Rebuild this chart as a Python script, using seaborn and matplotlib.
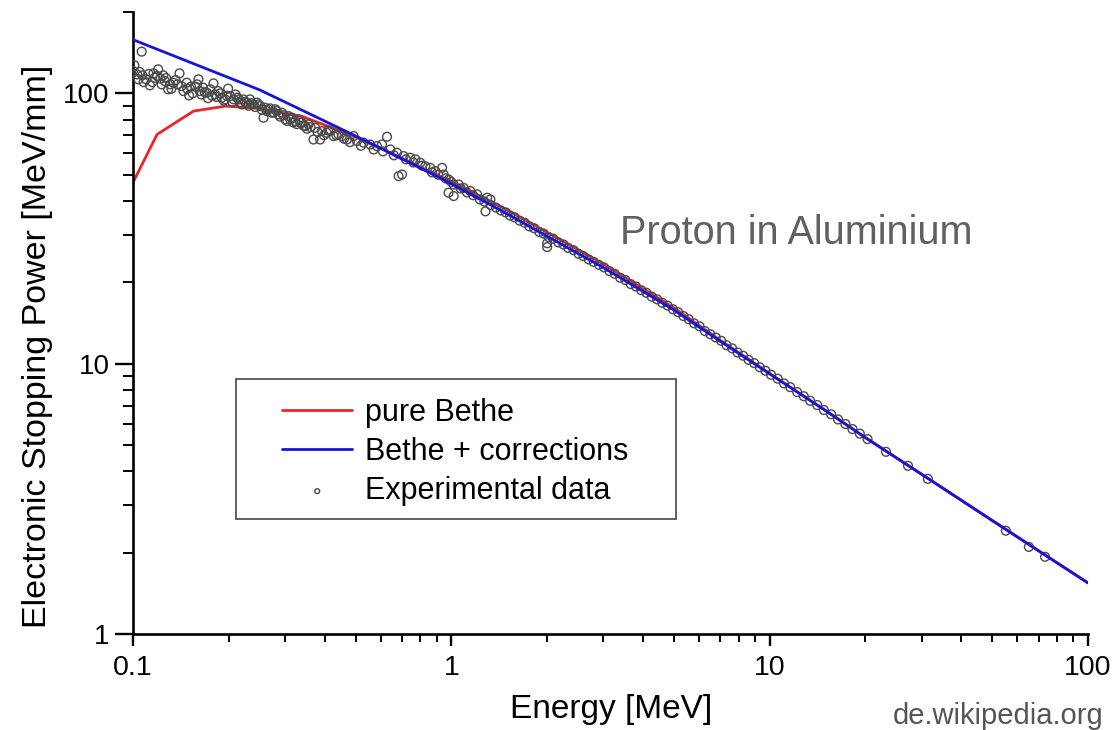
import numpy as np
import pandas as pd
import matplotlib
matplotlib.use("Agg")
import matplotlib.pyplot as plt
import seaborn as sns
from matplotlib.ticker import LogLocator, FixedLocator, FixedFormatter, NullFormatter
from matplotlib.patches import Rectangle

# ---------------- data ----------------
bethe_energy = [0.1, 0.119, 0.155, 0.195, 0.25, 0.34, 0.5, 0.7, 1.0, 1.5, 2.0, 3.0,
                5.0, 7.0, 10, 15, 20, 30, 50, 70, 100]
bethe_power = [46.8, 70.5, 86.0, 89.7, 88.0, 82.2, 69.0, 57.5, 47.2, 37.0, 30.6, 23.4,
               16.1, 12.2, 9.2, 6.7, 5.33, 3.9, 2.63, 2.03, 1.545]

corr_energy = [0.1, 0.25, 0.4, 0.6, 1.0, 1.5, 2.0, 3.0, 5.0, 7.0, 10, 15, 20, 30, 50, 70, 100]
corr_power = [158, 103, 79, 62.7, 46.3, 35.8, 29.6, 22.7, 15.8, 12.1, 9.17, 6.7, 5.32,
              3.90, 2.63, 2.03, 1.545]

# experimental data, low-energy cloud
cloud_energy = [0.101, 0.103, 0.104, 0.1065, 0.107, 0.110, 0.113, 0.116, 0.117, 0.120,
                0.122, 0.1245, 0.126, 0.129, 0.131, 0.134, 0.138, 0.140, 0.142, 0.1475,
                0.150, 0.152, 0.157, 0.1605, 0.162, 0.166, 0.1705, 0.175, 0.179, 0.181,
                0.185, 0.190, 0.195, 0.199, 0.202, 0.207, 0.212, 0.217, 0.222, 0.228,
                0.233, 0.239, 0.245, 0.251, 0.257, 0.260, 0.266, 0.273, 0.280, 0.286,
                0.2935, 0.301, 0.308, 0.3155, 0.323, 0.331, 0.339, 0.3475, 0.356, 0.369,
                0.3735, 0.387, 0.392, 0.406, 0.416, 0.4265, 0.442, 0.453, 0.470, 0.493,
                0.505, 0.530, 0.556, 0.584, 0.6055, 0.628, 0.643, 0.675, 0.683, 0.700,
                0.708, 0.743, 0.7705, 0.799, 0.828, 0.859, 0.891, 0.935, 0.946, 0.981,
                1.017, 1.017, 1.054, 1.093, 1.147, 1.205, 1.295,
                0.100, 0.105, 0.108, 0.112, 0.115, 0.119, 0.123, 0.127, 0.132, 0.136,
                0.144, 0.148, 0.154, 0.159, 0.164, 0.168, 0.172, 0.177, 0.183, 0.188,
                0.193, 0.197, 0.205, 0.210, 0.215, 0.220, 0.225, 0.231, 0.236, 0.242,
                0.248, 0.254, 0.263, 0.270, 0.277, 0.283, 0.290, 0.297, 0.305, 0.312,
                0.319, 0.327, 0.335, 0.343, 0.352, 0.361, 0.380, 0.398, 0.410, 0.435,
                0.460, 0.480, 0.520, 0.570, 0.610, 0.660, 0.720, 0.760, 0.810, 0.870,
                0.910, 0.960, 1.000, 1.070, 1.120, 1.170, 1.230, 1.270, 0.980, 1.280]
cloud_power = [127, 117.5, 112.7, 142.7, 116.6, 112.7, 107.1, 118.6, 114.3, 122.7,
               113.3, 116.6, 111.1, 103.5, 108.0, 109.5, 108.0, 118.6, 106.4, 109.5,
               98.3, 105.9, 105.9, 112.7, 102.0, 105.0, 100.6, 103.5, 108.9, 99.2,
               102.0, 96.4, 95.0, 104.1, 97.7, 95.0, 96.4, 92.4, 95.0, 92.4,
               95.0, 91.0, 92.4, 89.7, 81.3, 88.5, 87.3, 84.8, 87.3, 83.6,
               84.8, 80.1, 82.4, 81.3, 79.0, 80.1, 77.9, 75.7, 76.8, 67.5,
               74.6, 67.5, 72.5, 71.5, 72.5, 69.5, 70.5, 69.5, 67.5, 69.5,
               66.6, 65.7, 64.7, 63.8, 64.7, 69.1, 62.0, 60.3, 49.4, 50.1,
               58.6, 57.8, 57.0, 55.4, 53.8, 53.0, 51.6, 53.0, 50.1, 48.0,
               46.0, 41.7, 46.0, 44.7, 43.5, 42.3, 41.1,
               121, 120, 110, 118, 110, 116, 108, 114, 104, 112,
               102, 104, 100, 108, 99, 101, 96, 98, 97, 100,
               94, 98, 93, 99, 95, 91, 93, 90, 92, 89,
               91, 87, 86, 88, 85, 86, 82, 83, 79, 80,
               78, 77, 78, 76, 74, 75, 72, 70, 73, 70,
               68, 66, 64, 62, 61, 59, 57, 55.5, 54, 51,
               50, 48.5, 47, 44.5, 43, 42, 40.5, 39.8, 42.9, 36.6]

# experimental data along the falling branch
track_energy = [1.326, 1.33, 1.38, 1.43, 1.48, 1.53, 1.58, 1.64, 1.70, 1.76,
                1.82, 1.89, 1.95, 2.0, 2.0, 2.02, 2.09, 2.17, 2.25, 2.33,
                2.42, 2.51, 2.60, 2.70, 2.80, 2.91, 3.02, 3.14, 3.26, 3.39,
                3.52, 3.66, 3.80, 3.95, 4.10, 4.26, 4.43, 4.60, 4.78, 4.97,
                5.16, 5.36, 5.57, 5.79, 6.02, 6.26, 6.51, 6.77, 7.04, 7.32,
                7.62, 7.93, 8.25, 8.59, 8.94, 9.31, 9.70, 10.1, 10.6, 11.1,
                11.6, 12.2, 12.8, 13.4, 14.1, 14.8, 15.6, 16.4, 17.3, 18.2,
                19.2, 20.3, 23.2, 27.2, 31.4, 55.2, 65.2, 73.3]
track_power = [40.5, 38.6, 37.8, 36.9, 36.3, 35.3, 34.8, 33.8, 33.2, 32.2,
               31.7, 30.7, 30.3, 27.9, 27.0, 29.4, 29.0, 28.1, 27.6, 26.8,
               26.3, 25.5, 25.0, 24.3, 23.8, 23.2, 22.7, 22.0, 21.5, 20.8,
               20.4, 19.7, 19.3, 18.7, 18.3, 17.7, 17.3, 16.8, 16.4, 15.9,
               15.5, 15.0, 14.6, 14.1, 13.75, 13.2, 12.85, 12.5, 12.15, 11.7,
               11.4, 11.0, 10.7, 10.33, 10.05, 9.70, 9.42, 9.10, 8.80, 8.45,
               8.19, 7.85, 7.58, 7.29, 7.03, 6.74, 6.50, 6.22, 5.98, 5.73,
               5.51, 5.26, 4.72, 4.19, 3.75, 2.41, 2.10, 1.93]

x_ticks = [0.1, 1, 10, 100]
x_tick_labels = ["0.1", "1", "10", "100"]
y_ticks = [1, 10, 100]
y_tick_labels = ["1", "10", "100"]

# ---------------- style ----------------
sns.set_style("ticks")
plt.rcParams['font.family'] = ['Liberation Sans', 'DejaVu Sans']
for k in ['text.color', 'axes.labelcolor', 'xtick.color', 'ytick.color', 'axes.edgecolor']:
    plt.rcParams[k] = 'black'

fig = plt.figure(figsize=(11.16, 7.30), dpi=100)
ax = fig.add_axes([133 / 1116, 1 - 634 / 730, (1088 - 133) / 1116, (634 - 12) / 730])

exp_df = pd.DataFrame({"energy": cloud_energy + track_energy,
                       "power": cloud_power + track_power})
bethe_df = pd.DataFrame({"energy": bethe_energy, "power": bethe_power})
corr_df = pd.DataFrame({"energy": corr_energy, "power": corr_power})

sns.lineplot(data=bethe_df, x="energy", y="power", color="#e8262a", lw=2.0,
             label="pure Bethe", ax=ax, sort=False, estimator=None, zorder=2)
sns.scatterplot(data=exp_df, x="energy", y="power", marker="o", s=40,
                facecolor="none", edgecolor="#4a4a4a", linewidth=1.0,
                label="Experimental data", ax=ax, zorder=3)
sns.lineplot(data=corr_df, x="energy", y="power", color="#1414dc", lw=2.0,
             label="Bethe + corrections", ax=ax, sort=False, estimator=None, zorder=4)

ax.set_xscale("log")
ax.set_yscale("log")
ax.set_xlim(0.1, 100)
ax.set_ylim(1, 200)

ax.xaxis.set_major_locator(FixedLocator(x_ticks))
ax.xaxis.set_major_formatter(FixedFormatter(x_tick_labels))
ax.yaxis.set_major_locator(FixedLocator(y_ticks))
ax.yaxis.set_major_formatter(FixedFormatter(y_tick_labels))
ax.xaxis.set_minor_locator(LogLocator(base=10, subs=np.arange(2, 10)))
ax.yaxis.set_minor_locator(LogLocator(base=10, subs=np.arange(2, 10)))
ax.xaxis.set_minor_formatter(NullFormatter())
ax.yaxis.set_minor_formatter(NullFormatter())

sns.despine(ax=ax)
for s in ["left", "bottom"]:
    ax.spines[s].set_linewidth(1.9)
ax.tick_params(axis="x", which="major", direction="out", length=8.8, width=1.7,
               labelsize=20.5, pad=6)
ax.tick_params(axis="x", which="minor", direction="out", length=5.8, width=1.4)
ax.tick_params(axis="y", which="major", direction="out", length=13, width=1.7,
               labelsize=20, pad=4)
ax.tick_params(axis="y", which="minor", direction="out", length=7.5, width=1.4)

ax.set_xlabel("Energy [MeV]", fontsize=24)
ax.xaxis.set_label_coords(0.5005, -0.097)
ax.set_ylabel("Electronic Stopping Power [MeV/mm]", fontsize=24.5)
ax.yaxis.set_label_coords(-0.084, 0.463)

ax.text((620 - 133) / 955, (634 - 233) / 622, "Proton in Aluminium", transform=ax.transAxes,
        fontsize=28.5, color="#606060", ha="left", va="center")
fig.text(1103 / 1116, 1 - 724 / 730, "de.wikipedia.org", fontsize=21, color="#555555",
         ha="right", va="baseline")

# legend
handles, labels = ax.get_legend_handles_labels()
order = [labels.index(l) for l in ["pure Bethe", "Bethe + corrections", "Experimental data"]]
ax.add_patch(Rectangle(((236 - 133) / 955, (634 - 519) / 622), 440 / 955, 140 / 622,
                       transform=ax.transAxes, facecolor="white", edgecolor="#555555",
                       lw=1.3, zorder=5))
leg = ax.legend([handles[i] for i in order], [labels[i] for i in order],
                loc="center", bbox_to_anchor=((455 - 133) / 955, (634 - 452) / 622),
                frameon=False, fontsize=22, handlelength=2.3, handletextpad=0.4,
                labelspacing=0.3, borderpad=0, markerscale=0.55)
leg.set_zorder(6)

fig.savefig("out.png", dpi=100)
